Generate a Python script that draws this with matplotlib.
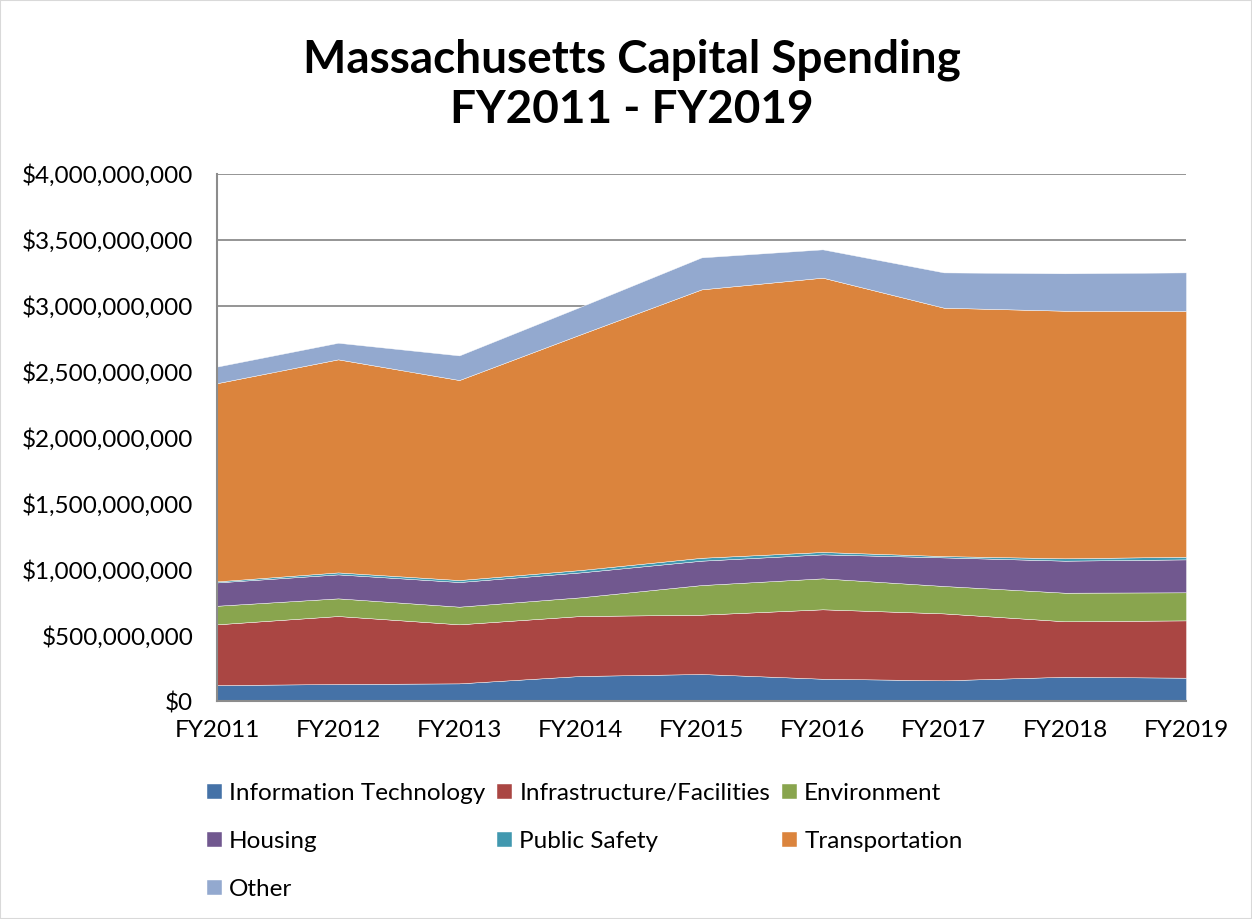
import matplotlib.pyplot as plt
import numpy as np
from matplotlib.ticker import FuncFormatter

plt.rcParams['font.family'] = ['Lato', 'DejaVu Sans']

# values in millions of dollars
years = ['FY2011', 'FY2012', 'FY2013', 'FY2014', 'FY2015',
         'FY2016', 'FY2017', 'FY2018', 'FY2019']
info_tech = [121, 129, 134, 190, 205, 169, 157, 184, 177]
infrastructure = [461, 516, 448, 455, 450, 527, 508, 421, 435]
environment = [141, 134, 134, 142, 225, 235, 208, 217, 213]
housing = [177, 182, 187, 189, 185, 182, 217, 243, 250]
public_safety = [8, 15, 15, 18, 22, 18, 10, 18, 20]
transportation = [1504, 1617, 1518, 1788, 2037, 2082, 1885, 1879, 1865]
other = [126, 126, 187, 210, 243, 215, 268, 284, 293]

labels = ['Information Technology', 'Infrastructure/Facilities', 'Environment',
          'Housing', 'Public Safety', 'Transportation', 'Other']
colors = ['#4572A7', '#AA4643', '#89A54E', '#71588F', '#4198AF', '#DB843D', '#93A9CF']

series = [info_tech, infrastructure, environment, housing,
          public_safety, transportation, other]
series = [np.array(s) * 1e6 for s in series]

fig = plt.figure(figsize=(12.52, 9.19), dpi=100)
ax = fig.add_axes([0.1733, 0.2372, 0.774, 0.5735])

x = np.arange(len(years))
polys = ax.stackplot(x, *series, colors=colors, labels=labels,
                     edgecolor='#ffffff', linewidth=0.3)

ax.set_xlim(0, len(years) - 1)
ax.set_ylim(0, 4e9)
ax.set_yticks(np.arange(0, 4.01e9, 5e8))
ax.yaxis.set_major_formatter(FuncFormatter(lambda v, p: '${:,.0f}'.format(v)))
ax.set_xticks(x, years)
ax.tick_params(axis='both', labelsize=17.5, length=0, colors='black')
ax.tick_params(axis='x', pad=14)
ax.tick_params(axis='y', pad=17)
ax.grid(axis='y', color='#8c8c8c', linewidth=1.3)
ax.set_axisbelow(True)
for s in ['top', 'right']:
    ax.spines[s].set_visible(False)
for s in ['left', 'bottom']:
    ax.spines[s].set_color('#8c8c8c')
    ax.spines[s].set_linewidth(1.5)

fig.text(0.505, 0.908, 'Massachusetts Capital Spending\nFY2011 - FY2019',
         ha='center', va='center', fontsize=33, fontweight='bold',
         linespacing=1.25)

# reorder so the legend reads row by row
order = [0, 3, 6, 1, 4, 2, 5]
handles = [polys[i] for i in order]
fig.legend(handles, [labels[i] for i in order], ncol=3,
           loc='upper left', bbox_to_anchor=(0.148, 0.172),
           frameon=False, fontsize=17.5, handlelength=0.6, handleheight=0.6,
           handletextpad=0.3, columnspacing=0.5, labelspacing=1.12)

fig.patches.append(plt.Rectangle((0, 0), 1, 1, transform=fig.transFigure,
                                 fill=False, edgecolor='#d9d9d9', linewidth=1.5))

fig.savefig('out.png', dpi=100)
